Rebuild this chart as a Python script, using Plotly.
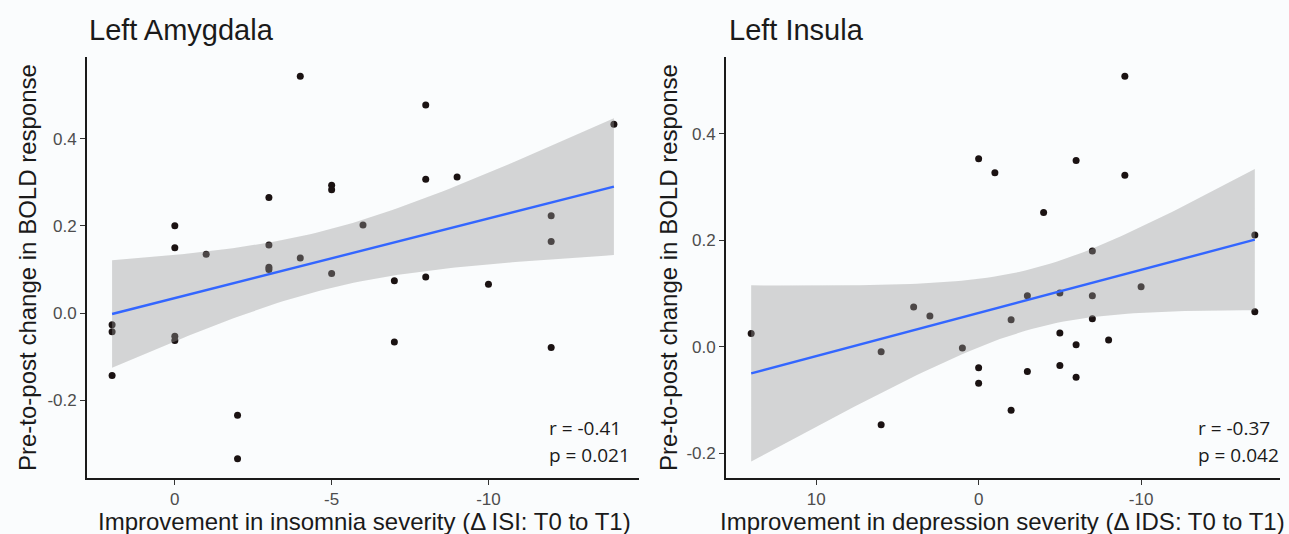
import numpy as np
import plotly.graph_objects as go

W, H = 1289, 534

# Left Amygdala: change in ISI vs change in BOLD
amy_x = [-4, 0, 0, -1, -3, -3, -3, -3, -4, -5, -5, -6, -8, -14, -8, -9, -12, -12,
         2, 2, 2, 0, 0, -5, -2, -2, -7, -8, -10, -7, -12]
amy_y = [0.543, 0.200, 0.150, 0.135, 0.265, 0.156, 0.105, 0.100, 0.126, 0.293, 0.283, 0.202,
         0.477, 0.433, 0.307, 0.312, 0.223, 0.164,
         -0.027, -0.043, -0.143, -0.053, -0.063, 0.091, -0.234, -0.334,
         0.074, 0.083, 0.066, -0.066, -0.079]

# Left Insula: change in IDS vs change in BOLD
ins_x = [14, 6, 6, 4, 3, 1, 0, 0, 0, -1, -4, -6, -9, -9, -7, -17, -3, -5, -7, -10,
         -17, -2, -7, -5, -6, -8, -3, -5, -6, -2]
ins_y = [0.025, -0.009, -0.146, 0.075, 0.058, -0.002, -0.039, -0.068, 0.353, 0.327,
         0.252, 0.350, 0.508, 0.322, 0.180, 0.210, 0.096, 0.101, 0.096, 0.113,
         0.066, 0.051, 0.053, 0.026, 0.004, 0.013, -0.046, -0.035, -0.057, -0.119]

titles = ["Left Amygdala", "Left Insula"]
xtitles = ["Improvement in insomnia severity (\u0394 ISI: T0 to T1)",
           "Improvement in depression severity (\u0394 IDS: T0 to T1)"]
ytitle = "Pre-to-post change in BOLD response"
stats = [["r = -0.41", "p = 0.021"], ["r = -0.37", "p = 0.042"]]
xticks = [[0, -5, -10], [10, 0, -10]]
xtick_text = [["0", "-5", "-10"], ["10", "0", "-10"]]
yticks = [-0.2, 0.0, 0.2, 0.4]
ytick_text = ["-0.2", "0.0", "0.2", "0.4"]

T975 = {29: 2.045, 28: 2.048}


def fit(x, y):
    x = np.asarray(x, float)
    y = np.asarray(y, float)
    n = len(x)
    b, a = np.polyfit(x, y, 1)
    resid = y - (a + b * x)
    s = np.sqrt(np.sum(resid ** 2) / (n - 2))
    xm = x.mean()
    sxx = np.sum((x - xm) ** 2)
    xs = np.linspace(x.min(), x.max(), 80)
    ys = a + b * xs
    se = s * np.sqrt(1 / n + (xs - xm) ** 2 / sxx)
    t = T975.get(n - 2, 2.05)
    return xs, ys, ys - t * se, ys + t * se


fig = go.Figure()
panels = [(amy_x, amy_y, "x", "y"), (ins_x, ins_y, "x2", "y2")]
for px, py, xa, ya in panels:
    fig.add_trace(go.Scatter(x=px, y=py, mode="markers", xaxis=xa, yaxis=ya,
                             marker=dict(color="#1a1212", size=7), showlegend=False))
    xs, ys, lo, hi = fit(px, py)
    fig.add_trace(go.Scatter(x=np.concatenate([xs, xs[::-1]]),
                             y=np.concatenate([hi, lo[::-1]]),
                             xaxis=xa, yaxis=ya, mode="lines", fill="toself",
                             fillcolor="rgba(153,153,153,0.4)", line=dict(width=0),
                             hoverinfo="skip", showlegend=False))
    fig.add_trace(go.Scatter(x=xs, y=ys, mode="lines", xaxis=xa, yaxis=ya,
                             line=dict(color="#3366FF", width=2.4), showlegend=False))

ydom = [1 - 478 / H, 1 - 57 / H]
xdoms = [[87 / W, 639 / W], [726 / W, 1280 / W]]
xranges = [[2.8, -14.8], [15.55, -18.55]]
yranges = [[-0.378, 0.587], [-0.246, 0.544]]

axis_common = dict(showgrid=False, zeroline=False, showline=True, linecolor="#1a1a1a",
                   linewidth=1.8, ticks="outside", ticklen=5, tickwidth=1.3,
                   tickcolor="#333333", tickfont=dict(family="Liberation Sans", size=17,
                                                       color="#4d4d4d"))
for i in range(2):
    sfx = "" if i == 0 else str(i + 1)
    fig.update_layout(**{
        "xaxis" + sfx: dict(domain=xdoms[i], range=xranges[i], tickvals=xticks[i],
                            ticktext=xtick_text[i], anchor="y" + sfx, **axis_common),
        "yaxis" + sfx: dict(domain=ydom, range=yranges[i], tickvals=yticks,
                            ticktext=ytick_text, anchor="x" + sfx, **axis_common),
    })

ann = []
title_x = [87, 727]
ytitle_x = [27, 668]
xtitle_cx = [365, 1002]
stat_x = [547, 1196]
for i in range(2):
    ann.append(dict(text=titles[i], x=title_x[i] / W, y=1 - 30 / H, xref="paper", yref="paper",
                    xanchor="left", yanchor="middle", showarrow=False,
                    font=dict(family="Liberation Sans", size=29, color="#1a1a1a")))
    ann.append(dict(text=ytitle, x=ytitle_x[i] / W, y=1 - 268 / H, xref="paper", yref="paper",
                    xanchor="center", yanchor="middle", textangle=-90, showarrow=False,
                    font=dict(family="Liberation Sans", size=24, color="#1a1a1a")))
    ann.append(dict(text=xtitles[i], x=xtitle_cx[i] / W, y=1 - 521 / H, xref="paper",
                    yref="paper", xanchor="center", yanchor="middle", showarrow=False,
                    font=dict(family="Liberation Sans", size=24, color="#1a1a1a")))
    for j, s in enumerate(stats[i]):
        ann.append(dict(text=s, x=stat_x[i] / W, y=1 - (428 + 27 * j) / H, xref="paper",
                        yref="paper", xanchor="left", yanchor="middle", showarrow=False,
                        font=dict(family="Open Sans", size=19, color="#1a1a1a")))

fig.update_layout(width=W, height=H, margin=dict(l=0, r=0, t=0, b=0),
                  paper_bgcolor="#fafcfd", plot_bgcolor="#fafcfd", annotations=ann,
                  showlegend=False)

fig.write_html("out.html", config={"displayModeBar": False},
               post_script="document.body.style.margin='0px';")
